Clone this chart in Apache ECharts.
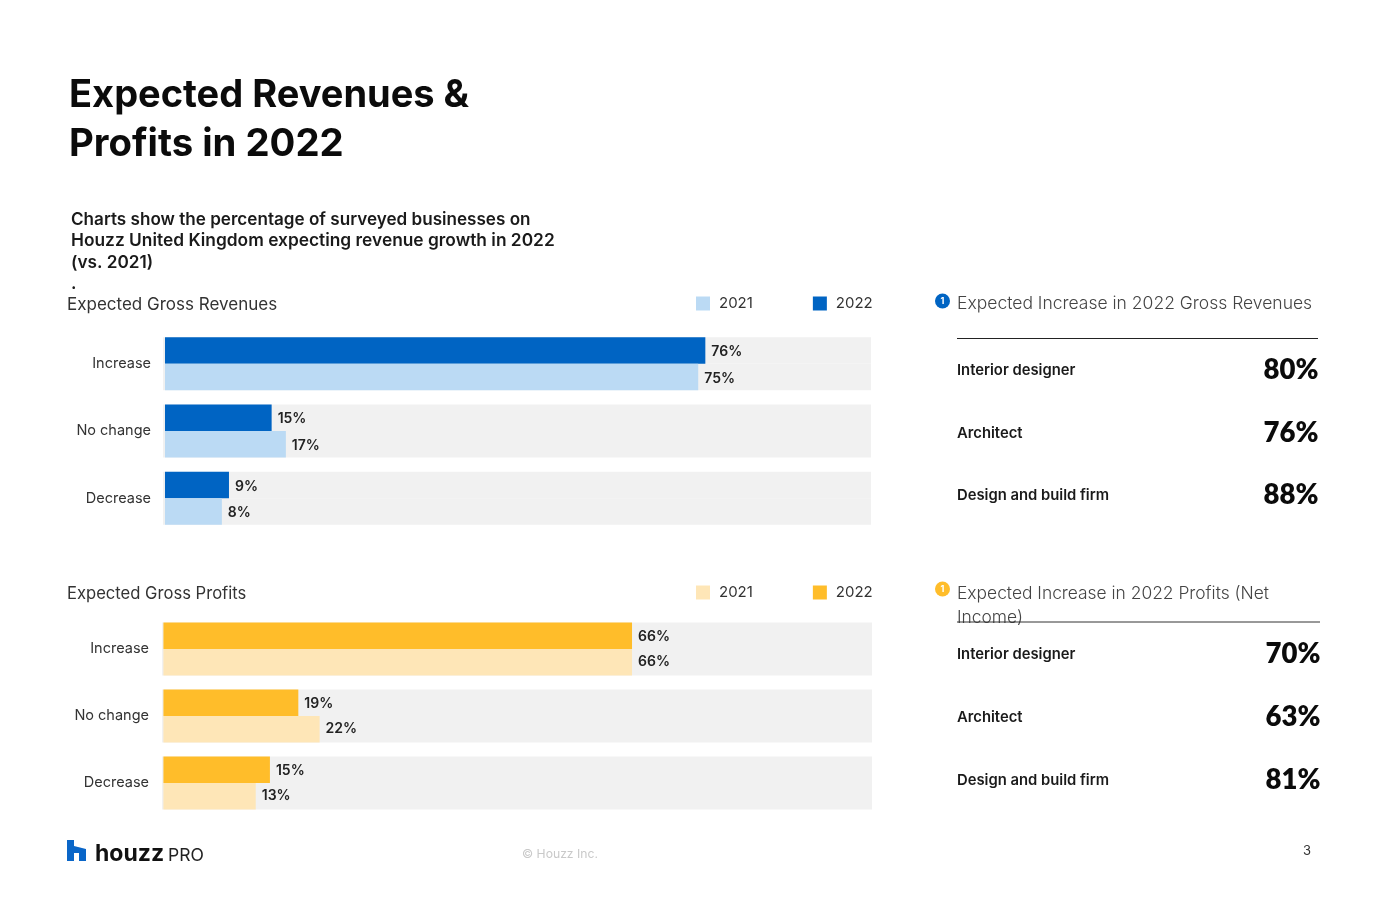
<!DOCTYPE html>
<html>
<head>
<meta charset="utf-8">
<style>html,body{margin:0;padding:0;background:#fff}#chart{width:1390px;height:900px}</style>
<script src="https://cdn.jsdelivr.net/npm/echarts@6/dist/echarts.min.js"></script>
</head>
<body>
<div id="chart"></div>
<script>
const answers = ['Increase', 'No change', 'Decrease'];
const yearLabels = ['2021', '2022'];
const revenues2022 = [76, 15, 9];
const revenues2021 = [75, 17, 8];
const profits2022 = [66, 19, 15];
const profits2021 = [66, 22, 13];
const firmTypes = ['Interior designer', 'Architect', 'Design and build firm'];
const revenueIncrease = [80, 76, 88];
const profitIncrease = [70, 63, 81];

const FONT = 'Inter, "Open Sans", sans-serif';
const FIGURE_FONT = 'Lato, Inter, sans-serif';
const BLUE = '#0064c3', BLUE_LIGHT = '#bbdaf4', AMBER = '#ffbd2a', AMBER_LIGHT = '#fee6b7', TRACK = '#f1f1f1';

function label(text, x, y, size, weight, color, align, family) {
  return { type: 'text', x, y, style: { text, fontFamily: family || FONT, fontSize: size, fontWeight: weight, fill: color, textAlign: align || 'left', textVerticalAlign: 'middle' } };
}
function rule(x1, x2, y, color, width) {
  return { type: 'line', shape: { x1, y1: y, x2, y2: y }, style: { stroke: color, lineWidth: width } };
}
function badge(cx, cy, r, color) {
  return [
    { type: 'circle', shape: { cx, cy, r }, style: { fill: color } },
    { type: 'text', x: cx, y: cy, style: { text: '1', fontFamily: FONT, fontSize: 9, fontWeight: 700, fill: '#fff', textAlign: 'center', textVerticalAlign: 'middle' } }
  ];
}
function barSeries(name, data, color, gridIndex, labelDrop) {
  return {
    type: 'bar', name, data, xAxisIndex: gridIndex, yAxisIndex: gridIndex,
    barWidth: 26.5, barGap: 0, silent: true,
    itemStyle: { color },
    showBackground: true, backgroundStyle: { color: TRACK },
    label: { show: true, position: 'right', distance: 6, offset: [0, labelDrop], formatter: '{c}%', fontFamily: FONT, fontSize: 14, fontWeight: 600, color: '#222' }
  };
}
function valueAxis(gridIndex, min, max) {
  return { type: 'value', gridIndex, min, max, show: false };
}
function answerAxis(gridIndex, margin) {
  return {
    type: 'category', gridIndex, data: answers, inverse: true,
    axisLine: { show: false }, axisTick: { show: false },
    axisLabel: { margin, fontFamily: FONT, fontSize: 14.5, color: '#333', padding: [4, 0, 0, 0] }
  };
}
function yearLegend(top, light, dark) {
  return {
    left: 691, top, icon: 'rect', itemWidth: 14, itemHeight: 14, itemGap: 60, selectedMode: false,
    textStyle: { fontFamily: FONT, fontSize: 15, color: '#333', padding: [0, 0, 0, 4] },
    data: [
      { name: yearLabels[0], itemStyle: { color: light } },
      { name: yearLabels[1], itemStyle: { color: dark } }
    ]
  };
}

const texts = [
  label('Expected Revenues &', 69, 96, 38, 700, '#0b0b0b'),
  label('Profits in 2022', 69, 144, 38.3, 700, '#0b0b0b'),
  label('Charts show the percentage of surveyed businesses on', 71, 220, 17.1, 600, '#1a1a1a'),
  label('Houzz United Kingdom expecting revenue growth in 2022', 71, 241, 17.35, 600, '#1a1a1a'),
  label('(vs. 2021)', 71, 263, 17.2, 600, '#1a1a1a'),
  label('.', 71, 284, 17, 600, '#1a1a1a'),
  label('Expected Gross Revenues', 67, 305, 17, 400, '#333'),
  label('Expected Gross Profits', 67, 594, 16.6, 400, '#333'),
  label('Expected Increase in 2022 Gross Revenues', 957, 304, 17.5, 300, '#444'),
  label('Expected Increase in 2022 Profits (Net', 957, 594, 17.4, 300, '#444'),
  label('Income)', 957, 618, 17.4, 300, '#444'),
  rule(957, 1318, 338.5, '#222', 1),
  rule(957, 1320, 622, '#333', 1),
  rule(758, 775, 348.5, '#c8c8c8', 1),
  rule(762, 780, 636, '#c8c8c8', 1),
  ...badge(787, 348, 7.5, BLUE),
  ...badge(792, 636, 7.5, AMBER),
  ...badge(942.5, 301, 7.5, BLUE),
  ...badge(942.5, 589, 7.5, AMBER),
  { type: 'polygon', shape: { points: [[67, 840], [74, 840], [74, 846], [86, 849], [86, 861], [79, 861], [79, 853], [74, 853], [74, 861], [67, 861]] }, style: { fill: '#0a66c8' } },
  label('houzz', 95, 854, 23, 700, '#111'),
  label('PRO', 168, 856, 17.5, 400, '#222'),
  label('© Houzz Inc.', 522, 854, 12.2, 400, '#c9c9c9'),
  label('3', 1303, 851, 13, 400, '#333')
];
const revenueRows = [371, 434, 496];
const profitRows = [655, 718, 781];
firmTypes.forEach((firm, i) => {
  texts.push(label(firm, 957, revenueRows[i], 14.8, 600, '#1a1a1a'));
  texts.push(label(revenueIncrease[i] + '%', 1318.5, revenueRows[i] - 1, 27.5, 800, '#0b0b0b', 'right', FIGURE_FONT));
  texts.push(label(firm, 957, profitRows[i], 14.8, 600, '#1a1a1a'));
  texts.push(label(profitIncrease[i] + '%', 1320.5, profitRows[i] - 1, 27.5, 800, '#0b0b0b', 'right', FIGURE_FONT));
});

const chart = echarts.init(document.getElementById('chart'), null, { renderer: 'canvas' });
chart.setOption({
  animation: false,
  backgroundColor: '#fff',
  grid: [
    { left: 163, top: 330, width: 708, height: 202 },
    { left: 162, top: 615.5, width: 710, height: 201 }
  ],
  xAxis: [valueAxis(0, -0.28, 99.3), valueAxis(1, -0.2, 99.8)],
  yAxis: [answerAxis(0, 12), answerAxis(1, 13)],
  legend: [yearLegend(291, BLUE_LIGHT, BLUE), yearLegend(580, AMBER_LIGHT, AMBER)],
  series: [
    barSeries(yearLabels[1], revenues2022, BLUE, 0, 1.5),
    barSeries(yearLabels[0], revenues2021, BLUE_LIGHT, 0, 1.5),
    barSeries(yearLabels[1], profits2022, AMBER, 1, 1),
    barSeries(yearLabels[0], profits2021, AMBER_LIGHT, 1, 0)
  ],
  graphic: { elements: texts }
});
</script>
</body>
</html>
